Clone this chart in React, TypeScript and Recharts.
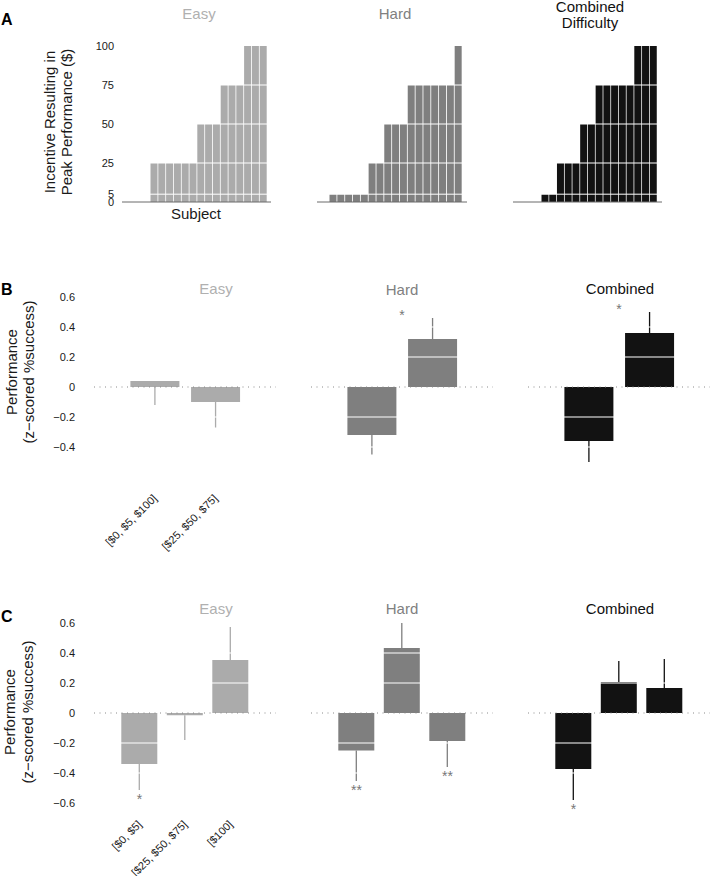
import React from 'react';
import { BarChart, Bar, XAxis, YAxis, ReferenceLine, ReferenceDot, ErrorBar } from 'recharts';

const FONT = '"Liberation Sans", Arial, Helvetica, sans-serif';
const EASY = '#ababab';
const HARD = '#7f7f7f';
const COMB = '#121212';

// ---------- Panel A: incentive resulting in peak performance ----------
const incentiveTicks = [0, 5, 25, 50, 75, 100];
const incentiveGrid = [5, 25, 50, 75];
const easyPeak = [25, 25, 25, 25, 25, 25, 50, 50, 50, 75, 75, 75, 100, 100, 100];
const hardPeak = [5, 5, 5, 5, 5, 25, 25, 50, 50, 50, 75, 75, 75, 75, 75, 75, 100];
const combinedPeak = [5, 5, 25, 25, 25, 50, 50, 75, 75, 75, 75, 75, 100, 100, 100];

// ---------- Panel B ----------
const labelsB = ['[$0, $5, $100]', '[$25, $50, $75]'];
const ticksB = [-0.4, -0.2, 0, 0.2, 0.4, 0.6];
const easyB = [0.04, -0.1];
const easyBWhisker = [-0.12, -0.27];
const easyBStars = ['', ''];
const hardB = [-0.32, 0.32];
const hardBWhisker = [-0.45, 0.46];
const hardBStars = ['', '*'];
const combinedB = [-0.36, 0.36];
const combinedBWhisker = [-0.5, 0.5];
const combinedBStars = ['', '*'];

// ---------- Panel C ----------
const labelsC = ['[$0, $5]', '[$25, $50, $75]', '[$100]'];
const ticksC = [-0.6, -0.4, -0.2, 0, 0.2, 0.4, 0.6];
const easyC = [-0.34, -0.015, 0.353];
const easyCWhisker = [-0.513, -0.18, 0.573];
const easyCStars = ['*', '', ''];
const hardC = [-0.25, 0.433, -0.187];
const hardCWhisker = [-0.453, 0.6, -0.36];
const hardCStars = ['**', '', '**'];
const combinedC = [-0.373, 0.207, 0.167];
const combinedCWhisker = [-0.58, 0.347, 0.36];
const combinedCStars = ['*', '', ''];

const perfGrid = [-0.4, -0.2, 0.2, 0.4];
const perfDomain = [-0.7, 0.6];

const fmtMinus = (v: number) => String(v).replace('-', '\u2212');

function IncentiveChart(props: {
  data: number[]; color: string; plotLeft: number; plotW: number; padL: number; padR: number; showY?: boolean;
}) {
  const { data, color, plotLeft, plotW, padL, padR, showY } = props;
  const yw = showY ? 42 : 0;
  const mL = showY ? 0 : 10;
  const rows = data.map((v, i) => ({ subject: i + 1, value: v }));
  return (
    <div style={{ position: 'absolute', left: plotLeft - mL - yw, top: 36 }}>
      <BarChart
        width={mL + yw + plotW + 10}
        height={172}
        data={rows}
        margin={{ top: 10, right: 10, bottom: 0, left: mL }}
        barCategoryGap={0.5}
      >
        <XAxis
          dataKey="subject"
          axisLine={{ stroke: '#6b6b6b', strokeWidth: 1 }}
          tickLine={false}
          tick={false}
          height={6}
          padding={{ left: padL, right: padR }}
        />
        <YAxis
          hide={!showY}
          width={yw}
          domain={[0, 100]}
          ticks={incentiveTicks}
          interval={0}
          axisLine={false}
          tickLine={false}
          tickSize={0}
          tickMargin={8}
          tick={{ fontSize: 11, fill: '#1a1a1a', fontFamily: FONT }}
        />
        <Bar dataKey="value" fill={color} isAnimationActive={false} />
        {incentiveGrid.map((g) => (
          <ReferenceLine key={g} y={g} stroke="#ffffff" strokeWidth={1} />
        ))}
      </BarChart>
    </div>
  );
}

const RotTick = (props: any) => {
  const { x, y, payload } = props;
  return (
    <text
      x={0}
      y={0}
      transform={`translate(${x + 3},${y + 7}) rotate(-45)`}
      textAnchor="end"
      fontSize={11}
      fontFamily={FONT}
      fill="#1a1a1a"
    >
      {payload.value}
    </text>
  );
};

function PerfChart(props: {
  labels: string[]; values: number[]; whiskers: number[]; stars: string[]; color: string;
  plotLeft: number; plotTop: number; ticks: number[]; showY?: boolean; between?: boolean;
}) {
  const { labels, values, whiskers, stars, color, plotLeft, plotTop, ticks, showY, between } = props;
  const plotW = 182;
  const plotH = 195;
  const n = labels.length;
  const band = plotW / (n + 1);
  const yw = showY ? 40 : 0;
  const mL = showY ? 4 : 10;
  const rows = labels.map((label, i) => {
    const v = values[i];
    const w = whiskers[i];
    return { label, value: v, err: w < v ? [v - w, 0] : [0, w - v], whisker: w, star: stars[i] };
  });
  return (
    <div style={{ position: 'absolute', left: plotLeft - mL - yw, top: plotTop - 10 }}>
      <BarChart
        width={mL + yw + plotW + 10}
        height={10 + plotH + 80}
        data={rows}
        margin={{ top: 10, right: 10, bottom: 0, left: mL }}
        barCategoryGap="10%"
      >
        <XAxis
          dataKey="label"
          axisLine={false}
          tickLine={false}
          tickSize={0}
          tickMargin={0}
          height={80}
          interval={0}
          padding={{ left: band / 2, right: band / 2 }}
          tick={showY ? <RotTick /> : false}
        />
        <YAxis
          hide={!showY}
          width={yw}
          domain={perfDomain}
          ticks={ticks}
          interval={0}
          axisLine={false}
          tickLine={false}
          tickSize={0}
          tickMargin={19}
          tickFormatter={fmtMinus}
          tick={{ fontSize: 11, fill: '#1a1a1a', fontFamily: FONT }}
        />
        <Bar dataKey="value" fill={color} isAnimationActive={false}>
          <ErrorBar dataKey="err" width={0} stroke={color} strokeWidth={1.3} direction="y" isAnimationActive={false} />
        </Bar>
        {perfGrid.map((g) => (
          <ReferenceLine key={g} y={g} stroke="#ffffff" strokeWidth={1.2} />
        ))}
        <ReferenceLine y={0} stroke="#8a8a8a" strokeWidth={1} strokeDasharray="1 4.5" />
        {rows
          .filter((r) => r.star)
          .map((r) => (
            <ReferenceDot
              key={r.label}
              x={r.label}
              y={r.whisker}
              r={0}
              ifOverflow="visible"
              shape={(p: any) => {
                const up = r.whisker > 0;
                const cx = p.cx + (between ? -band / 2 : 0);
                const cy = p.cy + (up ? -6 : 6);
                return (
                  <text x={cx} y={cy + 8} textAnchor="middle" fontSize={14} fontFamily={FONT} fill="#777">
                    {r.star}
                  </text>
                );
              }}
            />
          ))}
      </BarChart>
    </div>
  );
}

const VLabel = ({ x, y, text, size = 15 }: { x: number; y: number; text: string; size?: number }) => (
  <text transform={`translate(${x},${y}) rotate(-90)`} textAnchor="middle" fontSize={size} fontFamily={FONT} fill="#1a1a1a">
    {text}
  </text>
);

const Title = ({ x, y, text, color }: { x: number; y: number; text: string; color: string }) => (
  <text x={x} y={y} textAnchor="middle" fontSize={15} fontFamily={FONT} fill={color}>
    {text}
  </text>
);

export default function App() {
  return (
    <div
      style={{
        position: 'absolute',
        left: 0,
        top: 0,
        width: 711,
        height: 876,
        overflow: 'hidden',
        background: '#ffffff',
        fontFamily: FONT,
      }}
    >
      {/* Panel A */}
      <IncentiveChart data={easyPeak} color={EASY} plotLeft={122} plotW={149} padL={28} padR={4} showY />
      <IncentiveChart data={hardPeak} color={HARD} plotLeft={317} plotW={150} padL={12} padR={5} />
      <IncentiveChart data={combinedPeak} color={COMB} plotLeft={513} plotW={149} padL={28} padR={5} />

      {/* Panel B */}
      <PerfChart labels={labelsB} values={easyB} whiskers={easyBWhisker} stars={easyBStars} color={EASY} plotLeft={94} plotTop={297} ticks={ticksB} showY between />
      <PerfChart labels={labelsB} values={hardB} whiskers={hardBWhisker} stars={hardBStars} color={HARD} plotLeft={311} plotTop={297} ticks={ticksB} between />
      <PerfChart labels={labelsB} values={combinedB} whiskers={combinedBWhisker} stars={combinedBStars} color={COMB} plotLeft={528} plotTop={297} ticks={ticksB} between />

      {/* Panel C */}
      <PerfChart labels={labelsC} values={easyC} whiskers={easyCWhisker} stars={easyCStars} color={EASY} plotLeft={94} plotTop={623} ticks={ticksC} showY />
      <PerfChart labels={labelsC} values={hardC} whiskers={hardCWhisker} stars={hardCStars} color={HARD} plotLeft={311} plotTop={623} ticks={ticksC} />
      <PerfChart labels={labelsC} values={combinedC} whiskers={combinedCWhisker} stars={combinedCStars} color={COMB} plotLeft={528} plotTop={623} ticks={ticksC} />

      <svg width={711} height={876} style={{ position: 'absolute', left: 0, top: 0, pointerEvents: 'none' }}>
        {/* panel letters */}
        <text x={1} y={25} fontSize={16} fontWeight="bold" fontFamily={FONT} fill="#000">A</text>
        <text x={1} y={295} fontSize={16} fontWeight="bold" fontFamily={FONT} fill="#000">B</text>
        <text x={1} y={622} fontSize={16} fontWeight="bold" fontFamily={FONT} fill="#000">C</text>

        {/* Panel A titles & labels */}
        <Title x={199} y={19} text="Easy" color="#b0b0b0" />
        <Title x={395} y={19} text="Hard" color="#808080" />
        <Title x={590} y={12} text="Combined" color="#111" />
        <Title x={590} y={27.5} text="Difficulty" color="#111" />
        <VLabel x={55} y={122} text="Incentive Resulting in" />
        <VLabel x={72} y={122} text="Peak Performance ($)" />
        <text x={196} y={218.5} textAnchor="middle" fontSize={15} fontFamily={FONT} fill="#1a1a1a">Subject</text>

        {/* Panel B titles & labels */}
        <Title x={216} y={294} text="Easy" color="#b0b0b0" />
        <Title x={402} y={295} text="Hard" color="#808080" />
        <Title x={620} y={294} text="Combined" color="#111" />
        <VLabel x={16.5} y={372} text="Performance" />
        <VLabel x={33.5} y={372} text={'(z\u2212scored %success)'} />

        {/* Panel C titles & labels */}
        <Title x={216} y={614} text="Easy" color="#b0b0b0" />
        <Title x={402} y={614} text="Hard" color="#808080" />
        <Title x={620} y={614} text="Combined" color="#111" />
        <VLabel x={14.5} y={712} text="Performance" />
        <VLabel x={32.5} y={712} text={'(z\u2212scored %success)'} />
      </svg>
    </div>
  );
}
